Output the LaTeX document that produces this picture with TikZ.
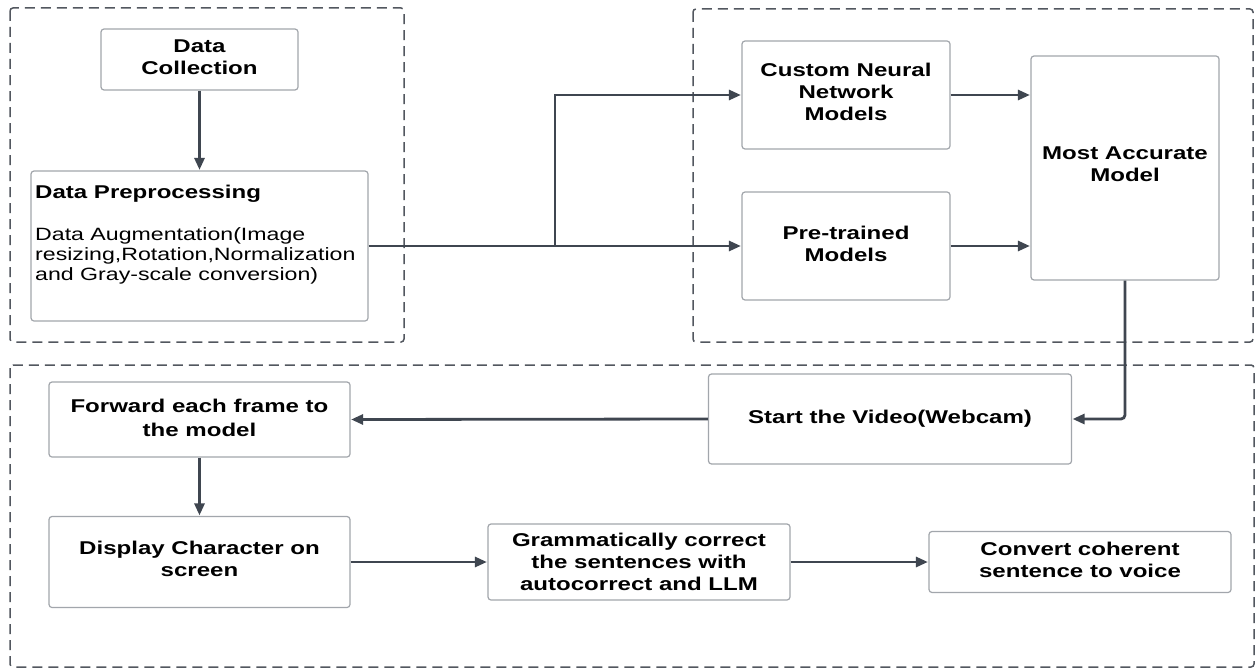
\documentclass[tikz,border=0pt]{standalone}
\usepackage{fontspec}
\setmainfont{Liberation Sans}[FakeStretch=1.3]
\usetikzlibrary{arrows.meta}
\definecolor{linecol}{HTML}{3F4650}
\definecolor{boxcol}{HTML}{A2A6AC}
\definecolor{dashcol}{HTML}{52575F}
\tikzset{
  stagebox/.style={draw=dashcol, line width=1.5pt, dash pattern=on 10pt off 6pt, rounded corners=3pt},
  box/.style={draw=boxcol, line width=1.2pt, rounded corners=3pt, fill=white, align=center,
    font=\bfseries\fontsize{18.5}{22}\selectfont, inner sep=0pt},
  label/.style={align=center, inner sep=0pt, font=\bfseries\fontsize{18.5}{22}\selectfont},
  conn/.style={draw=linecol, line width=2.8pt},
  arr/.style={conn, -{Triangle[length=12pt,width=10pt]}, shorten >=0.5pt}
}
\begin{document}
\begin{tikzpicture}[x=1pt,y=-1pt]
\useasboundingbox (0,0) rectangle (1255,669);
\fill[white] (0,0) rectangle (1255,669);

% stage frames
\draw[stagebox] (10,8) rectangle (404,342);
\draw[stagebox] (693,9) rectangle (1253,342);
\draw[stagebox] (10,365) rectangle (1254,667);

% data stage
\node[box, minimum width=197pt, minimum height=61pt] (dc) at (199.5,59.5) {};
\node[label] (dctext) at (199.5,57) {Data\\Collection};
\node[box, minimum width=337pt, minimum height=150pt] (prep) at (199.5,246) {};
\node[anchor=base west, inner sep=0pt, font=\bfseries\fontsize{18.5}{22}\selectfont] (preptitle) at (35,198) {Data Preprocessing};
\node[anchor=north west, align=left, inner sep=0pt, font=\fontsize{17.8}{20}\selectfont] (prepbody) at (35,227)
  {Data Augmentation(Image\\resizing,Rotation,Normalization\\and Gray-scale conversion)};

% model stage
\node[box, minimum width=208pt, minimum height=108pt] (custom) at (846,95) {};
\node[label] (customtext) at (846,92) {Custom Neural\\Network\\Models};
\node[box, minimum width=208pt, minimum height=108pt] (pre) at (846,246) {};
\node[label] (pretext) at (846,244) {Pre-trained\\Models};
\node[box, minimum width=188pt, minimum height=224pt] (acc) at (1125,168) {};
\node[label] (acctext) at (1125,164) {Most Accurate\\Model};

% inference stage
\node[box, minimum width=363pt, minimum height=90pt] (start) at (890,419) {};
\node[label] (starttext) at (890,419) {Start the Video(Webcam)};
\node[box, minimum width=301pt, minimum height=75pt] (fwd) at (199.5,419.5) {};
\node[label, font=\bfseries\fontsize{18.5}{24}\selectfont] (fwdtext) at (199.5,418) {Forward each frame to\\the model};
\node[box, minimum width=301pt, minimum height=91pt] (disp) at (199.5,562) {};
\node[label] (disptext) at (199.5,559) {Display Character on\\screen};
\node[box, minimum width=302pt, minimum height=76pt] (gram) at (639,562) {};
\node[label] (gramtext) at (639,562) {Grammatically correct\\the sentences with\\autocorrect and LLM};
\node[box, minimum width=302pt, minimum height=61pt] (conv) at (1080,562) {};
\node[label] (convtext) at (1080,560) {Convert coherent\\sentence to voice};

% connectors
\draw[arr] (dc.south) -- (prep.north);
\coordinate (split) at (555,246);
\draw[conn] (prep.east) -- (split);
\draw[arr] (split) |- (custom.west);
\draw[arr] (split) -- (pre.west);
\draw[arr] (custom.east) -- (acc.west |- custom.east);
\draw[arr] (pre.east) -- (acc.west |- pre.east);
\draw[arr, rounded corners=4pt] (acc.south) |- (start.east);
\draw[arr] (start.west) -- (fwd.east);
\draw[arr] (fwd.south) -- (disp.north);
\draw[arr] (disp.east) -- (gram.west);
\draw[arr] (gram.east) -- (conv.west);
\end{tikzpicture}
\end{document}
